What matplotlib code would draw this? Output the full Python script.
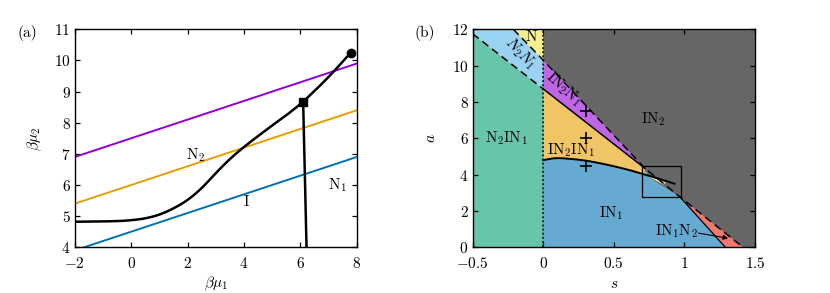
import numpy as np
import matplotlib
matplotlib.use("Agg")
import matplotlib.pyplot as plt
from matplotlib.patches import Polygon, Rectangle

plt.rcParams['font.family'] = 'serif'
plt.rcParams['font.serif'] = ['cmr10']
plt.rcParams['mathtext.fontset'] = 'cm'
plt.rcParams['axes.formatter.use_mathtext'] = True

# ---------------- panel (a) data ----------------
mu1_lines = [-2, 8]
purple_line = [6.9, 9.9]
orange_line = [5.4, 8.4]
blue_line = [3.9, 6.9]
coex_mu1 = [-2, -1, 0, 0.5, 1, 1.5, 2, 2.5, 3, 3.5, 4, 4.5, 5, 5.5, 6.1]
coex_mu2 = [4.82, 4.83, 4.87, 4.93, 5.05, 5.25, 5.52, 5.9, 6.38, 6.83, 7.22, 7.57, 7.91, 8.24, 8.67]
upper_mu1 = [6.1, 7.0, 7.79]
upper_mu2 = [8.67, 9.47, 10.25]
vert_mu1 = [6.1, 6.22]
vert_mu2 = [8.67, 4.0]
triple_pt = (6.1, 8.67)
crit_pt = (7.79, 10.25)
xticks_a = [-2, 0, 2, 4, 6, 8]
yticks_a = [4, 5, 6, 7, 8, 9, 10, 11]

# ---------------- panel (b) data ----------------
A_s = [-0.212, 0.0, 0.72, 0.97, 1.416]
A_a = [12.0, 10.3, 4.35, 2.76, 0.0]
B_s = [-0.5, 0.72]
B_a = [11.75, 4.35]
C_s = [0.0, 0.08, 0.2, 0.3, 0.4, 0.5, 0.6, 0.72, 0.8, 0.93]
C_a = [4.8, 4.9, 4.86, 4.77, 4.63, 4.46, 4.27, 4.0, 3.82, 3.5]
R_s = [0.97, 1.29]
R_a = [2.76, 0.0]
plus_s = [0.3, 0.3, 0.3]
plus_a = [7.5, 6.0, 4.5]
inset_box = (0.7, 2.75, 0.975, 4.5)
xticks_b = [-0.5, 0, 0.5, 1, 1.5]
xticklabels_b = ['$-0.5$', '$0$', '$0.5$', '$1$', '$1.5$']
yticks_b = [0, 2, 4, 6, 8, 10, 12]

col = {
    'green': '#66c5ab', 'lblue': '#9ad2f2', 'yellow': '#f6ef8e', 'purple': '#bf66e5',
    'orange': '#f0c566', 'blue': '#66aad1', 'grey': '#666666', 'red': '#ef786f',
}


def smooth(x, y, n=20):
    """Cubic Hermite rendering through the given points."""
    x = np.asarray(x, float); y = np.asarray(y, float)
    m = np.gradient(y, x)
    xs, ys = [], []
    for i in range(len(x) - 1):
        h = x[i + 1] - x[i]
        t = np.linspace(0, 1, n, endpoint=False)
        h00 = 2 * t**3 - 3 * t**2 + 1
        h10 = t**3 - 2 * t**2 + t
        h01 = -2 * t**3 + 3 * t**2
        h11 = t**3 - t**2
        xs.append(x[i] + t * h)
        ys.append(h00 * y[i] + h10 * h * m[i] + h01 * y[i + 1] + h11 * h * m[i + 1])
    xs.append([x[-1]]); ys.append([y[-1]])
    return np.concatenate(xs), np.concatenate(ys)


fig = plt.figure(figsize=(8.3, 2.93), dpi=100)
axa = fig.add_axes([0.090, 0.156, 0.3398, 0.744])
axb = fig.add_axes([0.5695, 0.156, 0.3401, 0.744])

fs = 11
for ax in (axa, axb):
    ax.tick_params(direction='in', top=True, right=True, length=3.6, width=0.9, labelsize=fs)
    ax.tick_params(axis='x', pad=6)
    ax.tick_params(axis='y', pad=3)
    for sp in ax.spines.values():
        sp.set_linewidth(1.0)

# ---- panel (a)
axa.plot(mu1_lines, purple_line, color='#9400D3', lw=1.4)
axa.plot(mu1_lines, orange_line, color='#E69F00', lw=1.4)
axa.plot(mu1_lines, blue_line, color='#0072B2', lw=1.4)
axa.plot(*smooth(coex_mu1, coex_mu2), color='k', lw=1.8)
axa.plot(*smooth(upper_mu1, upper_mu2), color='k', lw=1.8)
axa.plot(vert_mu1, vert_mu2, color='k', lw=1.8)
axa.plot(*triple_pt, marker='s', color='k', ms=6, clip_on=False)
axa.plot(*crit_pt, marker='o', color='k', ms=6, clip_on=False)
axa.set_xlim(-2, 8)
axa.set_ylim(4, 11)
axa.set_xticks(xticks_a)
axa.set_xticklabels(['$%d$' % t for t in xticks_a])
axa.set_yticks(yticks_a)
axa.set_yticklabels(['$%d$' % t for t in yticks_a])
axa.set_xlabel(r'$\beta\mu_1$', fontsize=fs, labelpad=3)
axa.set_ylabel(r'$\beta\mu_2$', fontsize=fs, labelpad=7)
axa.text(2.27, 6.96, r'$\mathrm{N}_2$', fontsize=fs, ha='center', va='center')
axa.text(7.3, 6.0, r'$\mathrm{N}_1$', fontsize=fs, ha='center', va='center')
axa.text(4.1, 5.46, r'$\mathrm{I}$', fontsize=fs, ha='center', va='center')
fig.text(27 / 830, 1 - 33 / 293, '(a)', fontsize=fs, ha='center', va='center')

# ---- panel (b) geometry helpers
A_s_arr = np.array(A_s); A_a_arr = np.array(A_a)


def A_of(s):
    return np.interp(s, A_s_arr, A_a_arr)


def B_of(s):
    return np.interp(s, B_s, B_a)


def A_segment(s1, s2):
    inner = [s for s in A_s if s1 < s < s2]
    ss = [s1] + inner + [s2]
    return [(s, A_of(s)) for s in ss]


Cx, Cy = smooth(C_s, C_a, n=10)
sf = np.linspace(0.72, 0.93, 2001)
diff = np.interp(sf, Cx, Cy) - A_of(sf)
idx = np.argmax(diff < 0)
sP = sf[idx]
aP = np.interp(sP, Cx, Cy)
tip_s = B_s[-1]
C_pts_toP = [(s, a) for s, a in zip(Cx, Cy) if s < sP] + [(sP, aP)]

axb.add_patch(Rectangle((0, 0), 1.5, 12, facecolor=col['grey'], edgecolor='none', zorder=0))
axb.add_patch(Polygon([(-0.5, 0), (0, 0), (0, B_of(0)), (-0.5, B_of(-0.5))],
                      facecolor=col['green'], edgecolor='none', zorder=1))
axb.add_patch(Polygon([(-0.5, B_of(-0.5)), (0, B_of(0)), (0, A_of(0)), (A_s[0], 12), (-0.5, 12)],
                      facecolor=col['lblue'], edgecolor='none', zorder=1))
axb.add_patch(Polygon([(A_s[0], 12), (0, A_of(0)), (0, 12)],
                      facecolor=col['yellow'], edgecolor='none', zorder=1))
purple = A_segment(0, tip_s) + [(0, B_of(0))]
axb.add_patch(Polygon(purple, facecolor=col['purple'], edgecolor='none', zorder=1))
orange = [(0, B_of(0)), (tip_s, B_of(tip_s))] + A_segment(tip_s, sP)[1:] + C_pts_toP[::-1]
axb.add_patch(Polygon(orange, facecolor=col['orange'], edgecolor='none', zorder=1))
blue = [(0, 0)] + C_pts_toP + A_segment(sP, R_s[0])[1:] + [(R_s[1], R_a[1])]
axb.add_patch(Polygon(blue, facecolor=col['blue'], edgecolor='none', zorder=1))
red = A_segment(R_s[0], A_s[-1]) + [(R_s[1], R_a[1])]
axb.add_patch(Polygon(red, facecolor=col['red'], edgecolor='none', zorder=1))
axb.add_patch(Polygon([(0.70, 4.40), (tip_s, A_of(tip_s)), (sP, aP), (0.74, 4.05)],
                      facecolor=col['green'], edgecolor='none', zorder=1.5))
axb.add_patch(Polygon([(sP, aP), (0.87, 3.56), (0.85, 3.45)],
                      facecolor=col['yellow'], edgecolor='none', zorder=1.5))

axb.plot(A_s, A_a, color='k', lw=1.1, ls=(0, (5, 3)), zorder=3)
sB_left = np.array([-0.5, 0])
axb.plot(sB_left, B_of(sB_left), color='k', lw=1.1, ls=(0, (5, 3)), zorder=3)
axb.plot([0, tip_s], [B_of(0), B_of(tip_s)], color='k', lw=1.1, zorder=3)
axb.plot(Cx, Cy, color='k', lw=1.4, zorder=3)
axb.plot(R_s, R_a, color='k', lw=0.9, zorder=3)
axb.plot([0, 0], [0, 12], color='k', lw=1.1, ls=(0, (1.2, 1.5)), zorder=3)
x0, y0, x1, y1 = inset_box
axb.add_patch(Rectangle((x0, y0), x1 - x0, y1 - y0, fill=False, edgecolor='k', lw=0.9, zorder=4))
axb.plot(plus_s, plus_a, ls='none', marker='+', color='k', ms=8, mew=1.2, zorder=4)

axb.set_xlim(-0.5, 1.5)
axb.set_ylim(0, 12)
axb.set_xticks(xticks_b)
axb.set_xticklabels(xticklabels_b)
axb.set_yticks(yticks_b)
axb.set_yticklabels(['$%d$' % t for t in yticks_b])
axb.set_xlabel(r'$s$', fontsize=fs, labelpad=5)
axb.set_ylabel(r'$a$', fontsize=fs, labelpad=10)

axb.text(-0.082, 11.6, r'$\mathrm{N}$', fontsize=fs, ha='center', va='center', zorder=5)
axb.text(-0.165, 10.68, r'$N_2N_1$', fontsize=fs, ha='center', va='center', rotation=-46, zorder=5)
axb.text(0.142, 8.75, r'$\mathrm{IN}_2\mathrm{N}_1$', fontsize=fs, ha='center', va='center', rotation=-42, zorder=5)
axb.text(0.78, 7.04, r'$\mathrm{IN}_2$', fontsize=fs, ha='center', va='center', zorder=5)
axb.text(-0.26, 6.0, r'$\mathrm{N}_2\mathrm{IN}_1$', fontsize=fs, ha='center', va='center', zorder=5)
axb.text(0.20, 5.35, r'$\mathrm{IN}_2\mathrm{IN}_1$', fontsize=fs, ha='center', va='center', zorder=5)
axb.text(0.48, 1.9, r'$\mathrm{IN}_1$', fontsize=fs, ha='center', va='center', zorder=5)
axb.text(0.945, 0.86, r'$\mathrm{IN}_1\mathrm{N}_2$', fontsize=fs, ha='center', va='center', zorder=5)
axb.annotate('', xy=(1.31, 0.5), xytext=(1.1, 0.78), zorder=5,
             arrowprops=dict(arrowstyle='-|>', color='k', lw=0.8, mutation_scale=7,
                             shrinkA=0, shrinkB=0))
fig.text(425 / 830, 1 - 33 / 293, '(b)', fontsize=fs, ha='center', va='center')

fig.savefig('out.png', dpi=100)
